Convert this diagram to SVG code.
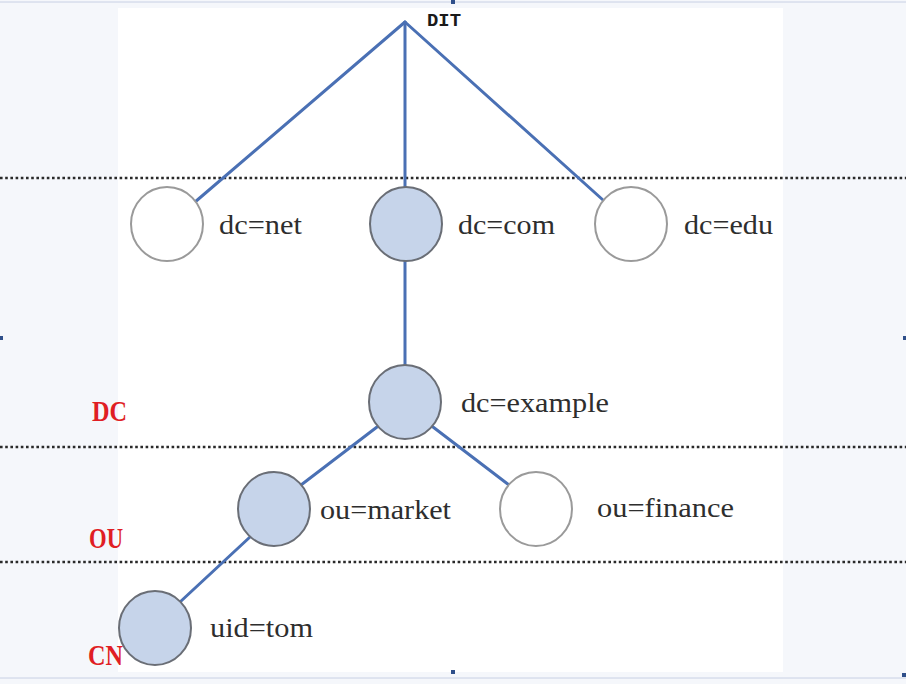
<svg xmlns="http://www.w3.org/2000/svg" width="906" height="684" viewBox="0 0 906 684">
<style>
.dot{stroke:#2a2a2a;stroke-width:2.6;stroke-dasharray:2.6 2.6;fill:none}
.edge{stroke:#4a70b4;stroke-width:3;fill:none;stroke-linecap:round}
.on{fill:#c6d4ea;stroke:#6a6e76;stroke-width:2}
.off{fill:#ffffff;stroke:#9a9a9a;stroke-width:2}
.lbl{font-family:"Liberation Serif","Times New Roman",serif;font-size:28px;fill:#2e2e2e}
.lvl{font-family:"Liberation Serif","Times New Roman",serif;font-size:29px;font-weight:bold;fill:#e01e24}
.dit{font-family:"Liberation Mono","DejaVu Sans Mono",monospace;font-size:19px;font-weight:bold;fill:#1a1a1a}
.h{fill:#2f4f8a}
</style>
<rect width="906" height="684" fill="#f5f7fb"/>
<rect x="118" y="8" width="665" height="664" fill="#ffffff"/>
<line x1="0" y1="2" x2="906" y2="2" stroke="#c8d0e4" stroke-width="1"/>
<line x1="0" y1="678" x2="906" y2="678" stroke="#c8d0e4" stroke-width="1"/>
<g id="handles">
<rect class="h" x="451" y="0" width="4" height="4"/>
<rect class="h" x="0" y="336" width="3" height="4"/>
<rect class="h" x="903" y="336" width="3" height="4"/>
<rect class="h" x="451" y="670" width="4" height="4"/>
<rect class="h" x="902" y="673" width="4" height="4"/>
</g>
<g id="levels">
<line class="dot" x1="0" y1="178" x2="906" y2="178"/>
<line class="dot" x1="0" y1="447" x2="906" y2="447"/>
<line class="dot" x1="0" y1="562" x2="906" y2="562"/>
<text class="lvl" x="92" y="421" textLength="35" lengthAdjust="spacingAndGlyphs">DC</text>
<text class="lvl" x="89" y="548" textLength="34" lengthAdjust="spacingAndGlyphs">OU</text>
<text class="lvl" x="88" y="665" textLength="35" lengthAdjust="spacingAndGlyphs">CN</text>
</g>
<g id="connectors">
<line class="edge" x1="405" y1="22" x2="195" y2="202"/>
<line class="edge" x1="405" y1="22" x2="405" y2="188"/>
<line class="edge" x1="405" y1="22" x2="603" y2="200"/>
<line class="edge" x1="405" y1="261" x2="405" y2="366"/>
<line class="edge" x1="377" y1="427" x2="301" y2="485"/>
<line class="edge" x1="433" y1="427" x2="509" y2="485"/>
<line class="edge" x1="250" y1="537" x2="180" y2="602"/>
</g>
<g id="DIT"><text class="dit" x="427" y="26" textLength="34" lengthAdjust="spacingAndGlyphs">DIT</text></g>
<g id="dc-net"><ellipse class="off" cx="167" cy="224" rx="36" ry="37"/><text class="lbl" x="219" y="234" textLength="83" lengthAdjust="spacingAndGlyphs">dc=net</text></g>
<g id="dc-com"><ellipse class="on" cx="406" cy="224" rx="36" ry="37"/><text class="lbl" x="458" y="234" textLength="97" lengthAdjust="spacingAndGlyphs">dc=com</text></g>
<g id="dc-edu"><ellipse class="off" cx="631" cy="224" rx="36" ry="37"/><text class="lbl" x="684" y="234" textLength="89" lengthAdjust="spacingAndGlyphs">dc=edu</text></g>
<g id="dc-example"><ellipse class="on" cx="405" cy="402" rx="36" ry="37"/><text class="lbl" x="461" y="412" textLength="148" lengthAdjust="spacingAndGlyphs">dc=example</text></g>
<g id="ou-market"><ellipse class="on" cx="274" cy="509" rx="36" ry="37"/><text class="lbl" x="320" y="519" textLength="131" lengthAdjust="spacingAndGlyphs">ou=market</text></g>
<g id="ou-finance"><ellipse class="off" cx="536" cy="509" rx="36" ry="37"/><text class="lbl" x="597" y="517" textLength="137" lengthAdjust="spacingAndGlyphs">ou=finance</text></g>
<g id="uid-tom"><ellipse class="on" cx="155" cy="628" rx="36" ry="37"/><text class="lbl" x="210" y="637" textLength="103" lengthAdjust="spacingAndGlyphs">uid=tom</text></g>
</svg>
